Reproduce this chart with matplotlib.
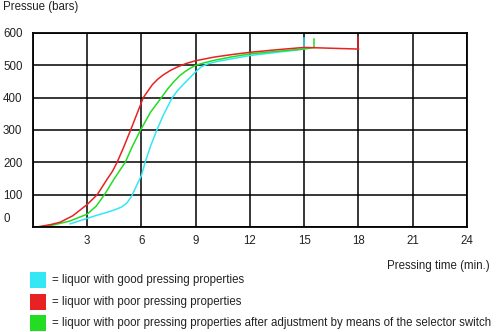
import matplotlib.pyplot as plt
from matplotlib.patches import Rectangle

plt.rcParams['font.family'] = ['Liberation Sans', 'DejaVu Sans']

# pressing curves: time (min) vs pressure (bars)
good_t = [2.05, 2.5, 3.0, 3.5, 4.0, 4.5, 4.9, 5.2, 5.45, 5.7, 6.0, 6.2, 6.5, 6.85, 7.2, 7.7, 8.0, 8.3, 8.65, 9.0, 9.3, 9.7,
          10.3, 11.0, 12.0, 13.5, 15.0]
good_p = [10, 18, 27, 36, 44, 53, 62, 75, 95, 125, 160, 200, 250, 300, 345, 400, 422, 440, 460, 480, 495, 505,
          513, 520, 530, 540, 550]

poor_t = [0.2, 1.0, 1.5, 2.2, 3.0, 3.55, 4.1, 4.4, 4.65, 5.0, 5.4, 5.75, 6.1, 6.35, 6.6, 6.9, 7.2, 7.6, 8.0, 8.5, 9.0,
          10.0, 11.0, 12.0, 13.5, 15.0, 18.0]
poor_p = [0, 8, 15, 35, 70, 100, 148, 173, 200, 245, 300, 350, 400, 420, 440, 457, 470, 484, 495, 506, 514,
          525, 533, 540, 548, 555, 550]

adj_t = [0.3, 1.0, 2.0, 3.0, 3.5, 3.95, 4.5, 5.1, 5.5, 5.95, 6.5, 7.1, 7.45, 7.8, 8.1, 8.4, 8.7, 9.0, 9.5, 10.0,
         11.0, 12.0, 13.5, 15.0, 15.55]
adj_p = [0, 5, 18, 40, 65, 100, 150, 200, 250, 300, 355, 400, 427, 450, 467, 480, 491, 500, 508, 515,
         526, 535, 543, 550, 555]

# end-of-cycle markers (time, from, to)
good_end = (15.0, 550, 585)
poor_end = (18.0, 550, 588)
adj_end = (15.55, 555, 580)

x_ticks = [3, 6, 9, 12, 15, 18, 21, 24]
y_ticks = [0, 100, 200, 300, 400, 500, 600]

legend_labels = [
    '= liquor with good pressing properties',
    '= liquor with poor pressing properties',
    '= liquor with poor pressing properties after adjustment by means of the selector switch',
]

c_good = '#33e8f4'
c_poor = '#e82222'
c_adj = '#22dd22'
fs = 8.3

fig = plt.figure(figsize=(5, 3.32), dpi=100)
ax = fig.add_axes([0.066, 0.316, 0.868, 0.585])
ax.set_xlim(0, 24)
ax.set_ylim(0, 600)

ax.set_xticks([0] + x_ticks)
ax.set_yticks(y_ticks)
ax.grid(True, color='black', linewidth=1.1)
ax.tick_params(length=0, labelsize=fs, colors='#222222')
ax.set_xticklabels([''] + [str(v) for v in x_ticks])
ax.set_yticklabels([''] + [str(v) for v in y_ticks[1:]])
for lab in ax.get_yticklabels():
    lab.set_horizontalalignment('left')
ax.tick_params(axis='y', pad=21.6)
ax.tick_params(axis='x', pad=6)
for s in ax.spines.values():
    s.set_linewidth(1.3)
ax.text(-0.069, 0.041, '0', transform=ax.transAxes, fontsize=fs, color='#222222',
        ha='left', va='center')

for t, p, end, c in [(good_t, good_p, good_end, c_good),
                     (adj_t, adj_p, adj_end, c_adj),
                     (poor_t, poor_p, poor_end, c_poor)]:
    ax.plot(t, p, color=c, linewidth=1.1)
    ax.plot([end[0], end[0]], [end[1], end[2]], color=c, linewidth=1.1)

fig.text(0.006, 0.978, 'Pressue (bars)', fontsize=fs, color='#222222', va='center')
fig.text(0.98, 0.198, 'Pressing time (min.)', fontsize=fs, color='#222222',
         ha='right', va='center')

for i, (lab, c) in enumerate(zip(legend_labels, [c_good, c_poor, c_adj])):
    yc = 280 + i * 21.5
    fig.patches.append(Rectangle((30 / 500, 1 - (yc + 8) / 332), 16 / 500, 16 / 332,
                                 transform=fig.transFigure, facecolor=c, edgecolor='none'))
    fig.text(52 / 500, 1 - yc / 332, lab, fontsize=fs, color='#222222', va='center')

fig.savefig('out.png', dpi=100)
